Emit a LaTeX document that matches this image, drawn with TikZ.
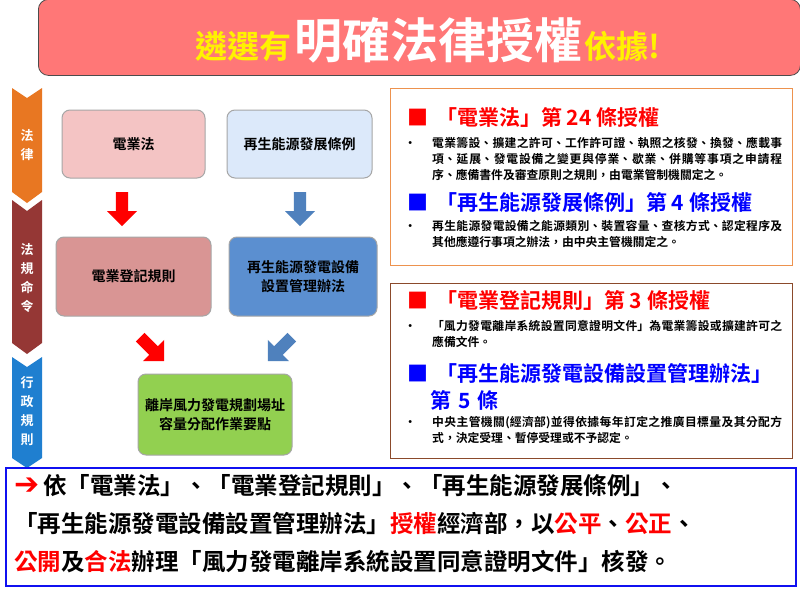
\documentclass[tikz,border=0pt]{standalone}
\usepackage{fontspec}
\setmainfont{Noto Sans CJK TC}[BoldFont={* Bold}]
\newfontfamily\cjkb{Noto Sans CJK TC Bold}
\newfontfamily\djv{DejaVu Sans Bold}
\XeTeXlinebreaklocale "zh"
\XeTeXlinebreakskip=0pt plus 1pt
\usetikzlibrary{arrows.meta,shapes.arrows}
\definecolor{ttl}{HTML}{FF7777}
\definecolor{pk1}{HTML}{F4C4C4}
\definecolor{pk2}{HTML}{D99594}
\definecolor{lb1}{HTML}{DCE9FA}
\definecolor{lb2}{HTML}{5B8FD0}
\definecolor{grn}{HTML}{92D050}
\definecolor{arrb}{HTML}{4F81BD}
\definecolor{orng}{HTML}{E87722}
\definecolor{mar}{HTML}{953735}
\definecolor{blu}{HTML}{1F7FD0}
\definecolor{brn}{HTML}{8B4A2B}
\definecolor{bbord}{HTML}{1010F0}
\tikzset{
 box/.style={draw=gray!70,line width=1pt,rounded corners=8pt,align=center,font=\cjkb\fontsize{14}{19}\selectfont,inner sep=0pt},
 bigarr/.style={single arrow,minimum height=34pt,minimum width=30pt,single arrow head extend=6pt,inner sep=4pt,draw=none},
 hd/.style={anchor=north west,font=\cjkb\fontsize{21}{27}\selectfont,inner sep=0pt},
 bt/.style={anchor=north west,font=\cjkb\fontsize{11.8}{16}\selectfont,text width=350pt,inner sep=0pt,align=justify},
 band/.style={font=\cjkb\fontsize{13}{19}\selectfont,text=white,align=center}
}
\begin{document}
\begin{tikzpicture}[x=1pt,y=-1pt]
\useasboundingbox (0,0) rectangle (800,589);
\fill[white] (0,0) rectangle (800,589);
% title
\node[draw=black!70,fill=ttl,rounded corners=10pt,line width=0.8pt,minimum width=762pt,minimum height=76pt,anchor=north west,inner sep=0pt] (title) at (38,-1) {};
\node[font=\cjkb,anchor=center] (tt) at (428,40) {\textcolor{yellow}{\fontsize{32}{34}\selectfont 遴選有}\ \textcolor{white}{\fontsize{48}{50}\selectfont 明確法律授權}\ \textcolor{yellow}{\fontsize{32}{34}\selectfont 依據!}};
% bands
\fill[orng] (12,88) -- (27,98) -- (42,88) -- (42,192) -- (27,203) -- (12,192) -- cycle;
\fill[mar] (12,200) -- (27,211) -- (42,200) -- (42,343) -- (27,354) -- (12,343) -- cycle;
\fill[blu] (12,357) -- (27,367) -- (42,357) -- (42,458) -- (27,468) -- (12,458) -- cycle;
\node[band] (b1) at (27,145) {法\\律};
\node[band] (b2) at (27,278) {法\\規\\命\\令};
\node[band] (b3) at (27,411) {行\\政\\規\\則};
% boxes
\node[box,fill=pk1,minimum width=143pt,minimum height=68pt] (n1) at (133.5,144) {電業法};
\node[box,fill=lb1,minimum width=145pt,minimum height=68pt] (n2) at (299.5,144) {再生能源發展條例};
\node[box,fill=pk2,minimum width=155pt,minimum height=79pt] (n3) at (133.5,276.5) {電業登記規則};
\node[box,fill=lb2,minimum width=148pt,minimum height=79pt] (n4) at (303,276.5) {再生能源發電設備\\設置管理辦法};
\node[box,fill=grn,minimum width=154pt,minimum height=81pt] (n5) at (215,414.5) {離岸風力發電規劃場址\\容量分配作業要點};
% arrows
\node[bigarr,fill=red,rotate=-90] (a1) at (122,206) {};
\node[bigarr,fill=arrb,rotate=-90] (a2) at (300,206) {};
\node[bigarr,fill=red,rotate=-45] (a3) at (150,347) {};
\node[bigarr,fill=arrb,rotate=-135] (a4) at (282,347) {};
% right boxes
\node[draw=orng!80,line width=1pt,minimum width=402pt,minimum height=177pt,anchor=north west,inner sep=0pt] (r1) at (390,88) {};
\node[draw=brn,line width=1pt,minimum width=402pt,minimum height=175pt,anchor=north west,inner sep=0pt] (r2) at (390,283) {};
\node[hd,text=red] (h1) at (407,107) {■\hspace{8pt}「電業法」第 24 條授權};
\node[bt] (t1) at (432,137) {\llap{•\hspace{16pt}}電業籌設、擴建之許可、工作許可證、執照之核發、換發、應載事項、延展、發電設備之變更與停業、歇業、併購等事項之申請程序、應備書件及審查原則之規則，由電業管制機關定之。};
\node[hd,text=blue] (h2) at (407,192) {■\hspace{8pt}「再生能源發展條例」第 4 條授權};
\node[bt] (t2) at (432,220) {\llap{•\hspace{16pt}}再生能源發電設備之能源類別、裝置容量、查核方式、認定程序及其他應遵行事項之辦法，由中央主管機關定之。};
\node[hd,text=red] (h3) at (407,290) {■\hspace{8pt}「電業登記規則」第 3 條授權};
\node[bt] (t3) at (432,320) {\llap{•\hspace{16pt}}「風力發電離岸系統設置同意證明文件」為電業籌設或擴建許可之應備文件。};
\node[hd,text=blue,text width=385pt] (h4) at (407,363) {■\hspace{8pt}「再生能源發電設備設置管理辦法」\\\hspace*{23pt}第 5 條};
\node[bt] (t4) at (432,416) {\llap{•\hspace{16pt}}中央主管機關(經濟部)並得依據每年訂定之推廣目標量及其分配方式，決定受理、暫停受理或不予認定。};
% bottom
\node[draw=bbord,line width=1.5pt,minimum width=790pt,minimum height=118pt,anchor=north west,inner sep=0pt] (bb) at (5,467) {};
\node[anchor=north west,font=\cjkb\fontsize{23.5}{38}\selectfont,inner sep=0pt,text width=790pt] (bt) at (14,474) {\textcolor{red}{\djv\fontsize{30}{20}\selectfont ➔}\,依「電業法」、「電業登記規則」、「再生能源發展條例」、\\「再生能源發電設備設置管理辦法」\textcolor{red}{授權}經濟部，以\textcolor{red}{公平}、\textcolor{red}{公正}、\\\textcolor{red}{公開}及\textcolor{red}{合法}辦理「風力發電離岸系統設置同意證明文件」核發。};
\end{tikzpicture}
\end{document}
